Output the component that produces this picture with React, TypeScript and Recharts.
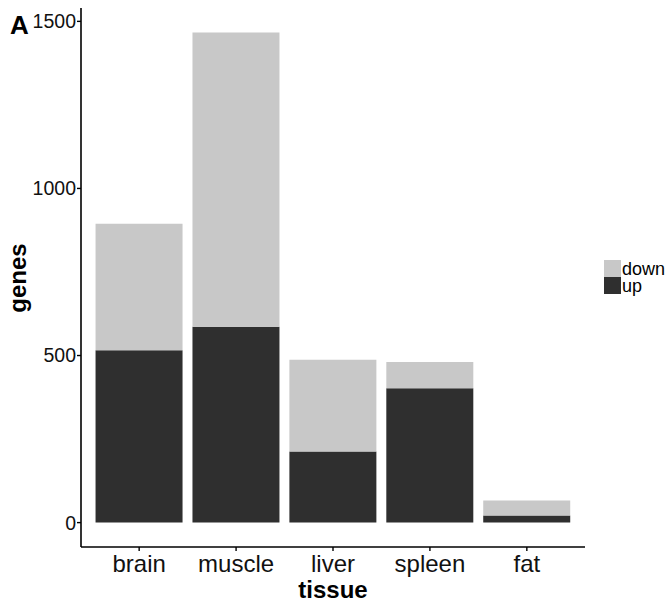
import React from "react";
import { BarChart, Bar, XAxis, YAxis } from "recharts";

const tissues = ["brain", "muscle", "liver", "spleen", "fat"];
const upGenes = [516, 586, 213, 402, 21];
const downGenes = [378, 881, 274, 79, 45];
const seriesNames = ["down", "up"];
const yTicks = [0, 500, 1000, 1500];

const LIGHT = "#C8C8C8";
const DARK = "#2F2F2F";
const FONT = "'Liberation Sans', Arial, sans-serif";

const data = tissues.map((t, i) => ({ tissue: t, up: upGenes[i], down: downGenes[i] }));

export default function App() {
  return (
    <div style={{ position: "absolute", left: 0, top: 0, width: 669, height: 604, background: "#fff", fontFamily: FONT }}>
      <BarChart
        width={669}
        height={604}
        data={data}
        margin={{ top: 8, right: 84, bottom: 0, left: 21 }}
        barCategoryGap="5%"
      >
        <XAxis
          dataKey="tissue"
          height={57}
          padding={{ left: 9.7, right: 9.7 }}
          axisLine={{ stroke: "#000", strokeWidth: 1.6 }}
          tickLine={{ stroke: "#000", strokeWidth: 1.4 }}
          tickSize={4}
          tickMargin={4}
          tick={{ fontSize: 24, fill: "#111", fontFamily: FONT }}
        />
        <YAxis
          width={60}
          domain={[-73, 1540]}
          allowDataOverflow
          ticks={yTicks}
          axisLine={{ stroke: "#000", strokeWidth: 1.6 }}
          tickLine={{ stroke: "#000", strokeWidth: 1.4 }}
          tickSize={4}
          tickMargin={1}
          tick={{ fontSize: 19.5, fill: "#111", fontFamily: FONT }}
        />
        <Bar dataKey="up" stackId="a" fill={DARK} isAnimationActive={false} />
        <Bar dataKey="down" stackId="a" fill={LIGHT} isAnimationActive={false} />
      </BarChart>
      <svg width={669} height={604} style={{ position: "absolute", left: 0, top: 0, pointerEvents: "none" }}>
        <text x={10} y={34} fontSize={26} fontWeight="bold" fontFamily={FONT} fill="#000">A</text>
        <text x={333} y={598} fontSize={24} fontWeight="bold" fontFamily={FONT} fill="#000" textAnchor="middle">tissue</text>
        <text
          x={26}
          y={278}
          fontSize={24}
          fontWeight="bold"
          fontFamily={FONT}
          fill="#000"
          textAnchor="middle"
          transform="rotate(-90, 26, 278)"
        >
          genes
        </text>
        {seriesNames.map((name, i) => (
          <g key={name}>
            <rect x={604} y={260 + i * 17} width={17} height={17} fill={name === "down" ? LIGHT : DARK} />
            <text x={622} y={275 + i * 17} fontSize={18} fontFamily={FONT} fill="#000">{name}</text>
          </g>
        ))}
      </svg>
    </div>
  );
}
